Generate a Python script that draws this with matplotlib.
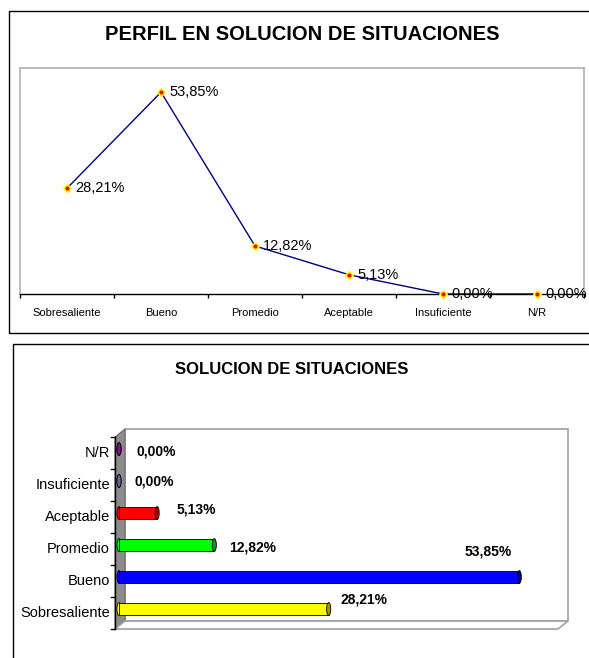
import numpy as np
import matplotlib
matplotlib.use("Agg")
import matplotlib.pyplot as plt
from matplotlib.patches import Rectangle, Polygon, Ellipse

plt.rcParams['font.family'] = ['Liberation Sans', 'DejaVu Sans']

categories = ['Sobresaliente', 'Bueno', 'Promedio', 'Aceptable', 'Insuficiente', 'N/R']
values = [28.21, 53.85, 12.82, 5.13, 0.00, 0.00]
bar_colors = ['#FFFF00', '#0000FF', '#00FF00', '#FF0000', '#666699', '#990099']
cap_colors = ['#9c9c00', '#00008c', '#00a000', '#a00000', '#666699', '#990099']
# label offsets in pixels for the 3d bar chart (dx, dy)
label_offsets = [(35, 9), (-31, 25), (38, -2), (39, 3), (35, -1), (37, -2)]

W, H = 589, 658
fig = plt.figure(figsize=(W / 100, H / 100), dpi=100)


def fx(x):
    return x / W


def fy(y):
    return 1 - y / H


def pct(v):
    return ('%.2f%%' % v).replace('.', ',')


# ---- top chart: line ----
fig.patches.append(Rectangle((fx(9), fy(333)), 1.2, fy(11) - fy(333), fill=False,
                             edgecolor='black', lw=1, transform=fig.transFigure))
fig.text(fx(302), fy(35), 'PERFIL EN SOLUCION DE SITUACIONES', fontsize=14.5,
         weight='bold', ha='center', va='center')

ax1 = fig.add_axes([fx(20), fy(294), (584 - 20) / W, (294 - 68) / H])
x = np.arange(len(categories))
ax1.plot(x, values, color='#000080', lw=1, zorder=3)
ax1.plot(x, values, 'D', ms=4.5, mfc='#ffff00', mec='#ffff00', zorder=4, clip_on=False)
ax1.plot(x, values, 'o', ms=2, color='red', zorder=5, clip_on=False)
ax1.set_xlim(-0.5, 5.5)
ax1.set_ylim(0, 60.3)
ax1.set_yticks([])
ax1.set_xticks(np.arange(-0.5, 6, 1))
ax1.set_xticklabels([])
ax1.tick_params(axis='x', which='major', direction='out', length=3, width=1, color='black')
ax1.set_xticks(x, minor=True)
ax1.set_xticklabels(categories, minor=True, fontsize=8)
ax1.tick_params(axis='x', which='minor', length=0, pad=10)
for s in ['left', 'top', 'right']:
    ax1.spines[s].set_color('#b0b0b0')
    ax1.spines[s].set_linewidth(1.2)
ax1.spines['bottom'].set_color('black')
ax1.spines['bottom'].set_linewidth(1)
for i, v in enumerate(values):
    ax1.annotate(pct(v), (i, v), xytext=(8, 0), textcoords='offset pixels',
                 va='center', ha='left', fontsize=10.5, zorder=6, annotation_clip=False)

# ---- bottom chart: 3d style bars ----
fig.patches.append(Rectangle((fx(13), fy(720)), 1.2, fy(344) - fy(720), fill=False,
                             edgecolor='black', lw=1, transform=fig.transFigure))
fig.text(fx(292), fy(369), 'SOLUCION DE SITUACIONES', fontsize=12,
         weight='bold', ha='center', va='center')

ax2 = fig.add_axes([fx(119), fy(625), 446 / W, 192 / H])
ax2.set_xlim(0, 60)
ax2.set_ylim(-0.5, 5.5)
ax2.axis('off')

tf = fig.transFigure
# back wall, side wall and floor
ax2.add_patch(Polygon([(fx(125), fy(429)), (fx(568), fy(429)), (fx(568), fy(621)),
                       (fx(125), fy(621))], closed=True, facecolor='white',
                      edgecolor='#a0a0a0', lw=1.2, transform=tf, clip_on=False, zorder=0))
ax2.add_patch(Polygon([(fx(115), fy(437)), (fx(125), fy(429)), (fx(125), fy(621)),
                       (fx(115), fy(629))], closed=True, facecolor='#8c8c8c',
                      edgecolor='#6a6a6a', lw=0.8, transform=tf, clip_on=False, zorder=0.5))
ax2.add_patch(Polygon([(fx(115), fy(629)), (fx(125), fy(621)), (fx(568), fy(621)),
                       (fx(558), fy(629))], closed=True, facecolor='white',
                      edgecolor='#a0a0a0', lw=1.2, transform=tf, clip_on=False, zorder=0.5))
ax2.add_line(plt.Line2D([fx(115), fx(115)], [fy(437), fy(629)], color='black', lw=1,
                        transform=tf, clip_on=False, zorder=1))
for k in range(7):
    yy = 437 + 32 * k
    ax2.add_line(plt.Line2D([fx(111), fx(115)], [fy(yy), fy(yy)], color='black', lw=1,
                            transform=tf, clip_on=False, zorder=1))

bh = 0.4
cap_w = 0.55
y = np.arange(len(categories))
for i, v in enumerate(values):
    ax2.add_patch(Ellipse((0, i), cap_w, bh, facecolor=bar_colors[i], edgecolor='black',
                          lw=0.6, zorder=2, clip_on=False))
ax2.barh(y, values, height=bh, color=bar_colors, edgecolor='black', lw=0.6, zorder=3)
for i, v in enumerate(values):
    ax2.add_patch(Ellipse((v, i), cap_w, bh, facecolor=cap_colors[i], edgecolor='black',
                          lw=0.6, zorder=4, clip_on=False))
    dx, dy = label_offsets[i]
    ax2.annotate(pct(v), (v, i), xytext=(dx, dy), textcoords='offset pixels',
                 ha='center', va='center', fontsize=10, weight='bold',
                 annotation_clip=False)
    ax2.annotate(categories[i], (0, i), xycoords=('axes fraction', 'data'),
                 xytext=(-9, -4), textcoords='offset pixels', ha='right', va='center',
                 fontsize=10.5, annotation_clip=False)

fig.savefig('out.png', dpi=100)
